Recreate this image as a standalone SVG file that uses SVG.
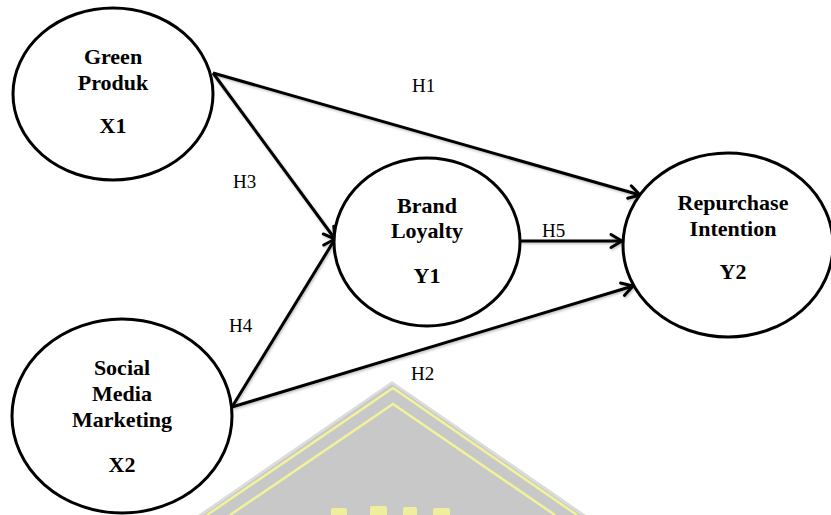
<svg xmlns="http://www.w3.org/2000/svg" width="831" height="515" viewBox="0 0 831 515">
  <style>
    .node ellipse { fill: #ffffff; stroke: #000000; stroke-width: 3; }
    .node text { font-family: "Liberation Serif", "Times New Roman", serif; font-weight: bold; font-size: 22px; fill: #000000; text-anchor: middle; }
    .conn line { stroke: #000000; stroke-width: 3; marker-end: url(#arrow); }
    .lbl { font-family: "Liberation Serif", "Times New Roman", serif; font-size: 19px; fill: #000000; }
  </style>
  <defs>
    <marker id="arrow" markerUnits="userSpaceOnUse" markerWidth="24" markerHeight="24" viewBox="-14 -12 24 24" refX="0" refY="0" orient="auto">
      <path d="M-11,-6.5 L0,0 L-11,6.5" fill="none" stroke="#000000" stroke-width="3" stroke-linecap="round" stroke-linejoin="round"/>
    </marker>
    <filter id="sh" x="-10%" y="-10%" width="120%" height="130%">
      <feDropShadow dx="1" dy="1.5" stdDeviation="1" flood-color="#000000" flood-opacity="0.25"/>
    </filter>
  </defs>
  <rect x="0" y="0" width="831" height="515" fill="#ffffff"/>

  <g id="watermark">
    <polygon points="392,381 198,515 586,515" fill="#dcdcdc"/>
    <polygon points="392,384 203,515 581,515" fill="#c8c8c8"/>
    <polyline points="207,515 393,388 577,515" fill="none" stroke="#f2f29a" stroke-width="2.5"/>
    <polyline points="230,515 393,404 555,515" fill="none" stroke="#f2f29a" stroke-width="2.5"/>
    <rect x="331" y="508" width="16" height="9" rx="2" fill="#eeee9c"/>
    <rect x="370" y="506" width="17" height="11" rx="2" fill="#eeee9c"/>
    <rect x="403" y="507" width="14" height="10" rx="2" fill="#eeee9c"/>
    <rect x="433" y="508" width="17" height="9" rx="2" fill="#eeee9c"/>
  </g>

  <g id="connectors" class="conn" filter="url(#sh)">
    <line id="h1" x1="213" y1="73" x2="640" y2="195"/>
    <line id="h3" x1="213" y1="73" x2="335" y2="239"/>
    <line id="h4" x1="232" y1="407" x2="335" y2="239"/>
    <line id="h2" x1="232" y1="407" x2="633" y2="286"/>
    <line id="h5" x1="520" y1="241" x2="622" y2="241"/>
  </g>

  <g id="labels">
    <text class="lbl" x="412" y="92">H1</text>
    <text class="lbl" x="233" y="188">H3</text>
    <text class="lbl" x="542" y="237">H5</text>
    <text class="lbl" x="229" y="332">H4</text>
    <text class="lbl" x="411" y="380">H2</text>
  </g>

  <g id="green-produk" class="node">
    <ellipse cx="113" cy="94" rx="100" ry="86"/>
    <text x="113" y="64">Green</text>
    <text x="113" y="90">Produk</text>
    <text x="113" y="133">X1</text>
  </g>

  <g id="social-media-marketing" class="node">
    <ellipse cx="122" cy="416" rx="110" ry="97"/>
    <text x="122" y="375">Social</text>
    <text x="122" y="401">Media</text>
    <text x="122" y="427">Marketing</text>
    <text x="122" y="472">X2</text>
  </g>

  <g id="brand-loyalty" class="node">
    <ellipse cx="427" cy="242" rx="93" ry="84"/>
    <text x="427" y="213">Brand</text>
    <text x="427" y="238">Loyalty</text>
    <text x="427" y="283">Y1</text>
  </g>

  <g id="repurchase-intention" class="node">
    <ellipse cx="728" cy="245" rx="105" ry="92"/>
    <text x="733" y="210">Repurchase</text>
    <text x="733" y="236">Intention</text>
    <text x="733" y="279">Y2</text>
  </g>
</svg>
